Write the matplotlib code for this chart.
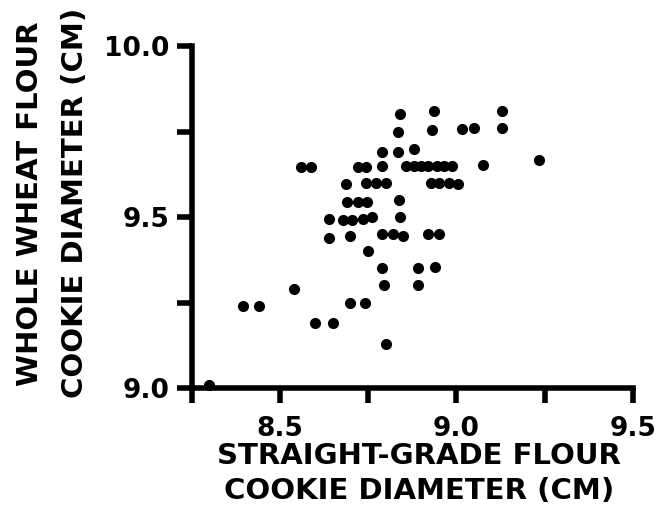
import matplotlib
matplotlib.use("Agg")
import matplotlib.pyplot as plt
from matplotlib.ticker import MultipleLocator, FormatStrFormatter

# cookie diameters (cm)
straight_grade = [8.30, 8.395, 8.44, 8.54, 8.60, 8.65, 8.70, 8.74, 8.80,
                  8.79, 8.795, 8.89, 8.89, 8.94, 8.75,
                  8.64, 8.70, 8.79, 8.82, 8.85, 8.92, 8.95,
                  8.64, 8.68, 8.705, 8.735, 8.76, 8.84,
                  8.69, 8.72, 8.746, 8.836,
                  8.686, 8.744, 8.773, 8.80, 8.927, 8.95, 8.978, 9.005,
                  8.56, 8.587, 8.72, 8.745, 8.79,
                  8.856, 8.88, 8.90, 8.92, 8.945, 8.966, 8.986,
                  9.074, 9.234,
                  8.79, 8.834, 8.88,
                  8.834, 8.93, 9.017, 9.05, 9.128,
                  8.84, 8.936, 9.128]
whole_wheat = [9.01, 9.24, 9.24, 9.29, 9.19, 9.19, 9.25, 9.25, 9.13,
               9.35, 9.30, 9.35, 9.30, 9.355, 9.40,
               9.44, 9.445, 9.45, 9.45, 9.445, 9.45, 9.45,
               9.495, 9.49, 9.49, 9.495, 9.50, 9.50,
               9.545, 9.545, 9.545, 9.55,
               9.596, 9.60, 9.60, 9.60, 9.60, 9.60, 9.60, 9.596,
               9.645, 9.645, 9.645, 9.645, 9.65,
               9.65, 9.65, 9.65, 9.65, 9.65, 9.65, 9.65,
               9.653, 9.667,
               9.69, 9.69, 9.70,
               9.75, 9.755, 9.757, 9.76, 9.76,
               9.80, 9.81, 9.81]

plt.rcParams['font.family'] = 'DejaVu Sans'
plt.rcParams['font.weight'] = 'bold'

fig = plt.figure(figsize=(6.65, 5.09), dpi=100)
ax = fig.add_axes([0.288, 0.2377, 0.664, 0.6719])

ax.plot(straight_grade, whole_wheat, 'o', color='black', markersize=7,
        clip_on=False)

ax.set_xlim(8.25, 9.5)
ax.set_ylim(9.0, 10.0)

ax.xaxis.set_major_locator(MultipleLocator(0.5))
ax.xaxis.set_minor_locator(MultipleLocator(0.25))
ax.yaxis.set_major_locator(MultipleLocator(0.5))
ax.yaxis.set_minor_locator(MultipleLocator(0.25))
ax.xaxis.set_major_formatter(FormatStrFormatter('%.1f'))
ax.yaxis.set_major_formatter(FormatStrFormatter('%.1f'))

for s in ['top', 'right']:
    ax.spines[s].set_visible(False)
for s in ['left', 'bottom']:
    ax.spines[s].set_linewidth(4)

ax.tick_params(which='both', direction='out', width=4, length=11)
ax.tick_params(axis='both', labelsize=19)
ax.tick_params(axis='y', pad=5)
ax.tick_params(axis='x', pad=9)

ax.set_xlabel('STRAIGHT-GRADE FLOUR\nCOOKIE DIAMETER (CM)', fontsize=21,
              fontweight='bold', linespacing=1.3)
ax.xaxis.set_label_coords(0.515, -0.25)
ax.xaxis.label.set_va('center')

ax.set_ylabel('WHOLE WHEAT FLOUR\nCOOKIE DIAMETER (CM)', fontsize=21,
              fontweight='bold', linespacing=1.8)
ax.yaxis.set_label_coords(-0.315, 0.54)
ax.yaxis.label.set_va('center')

fig.savefig('out.png', dpi=100)
